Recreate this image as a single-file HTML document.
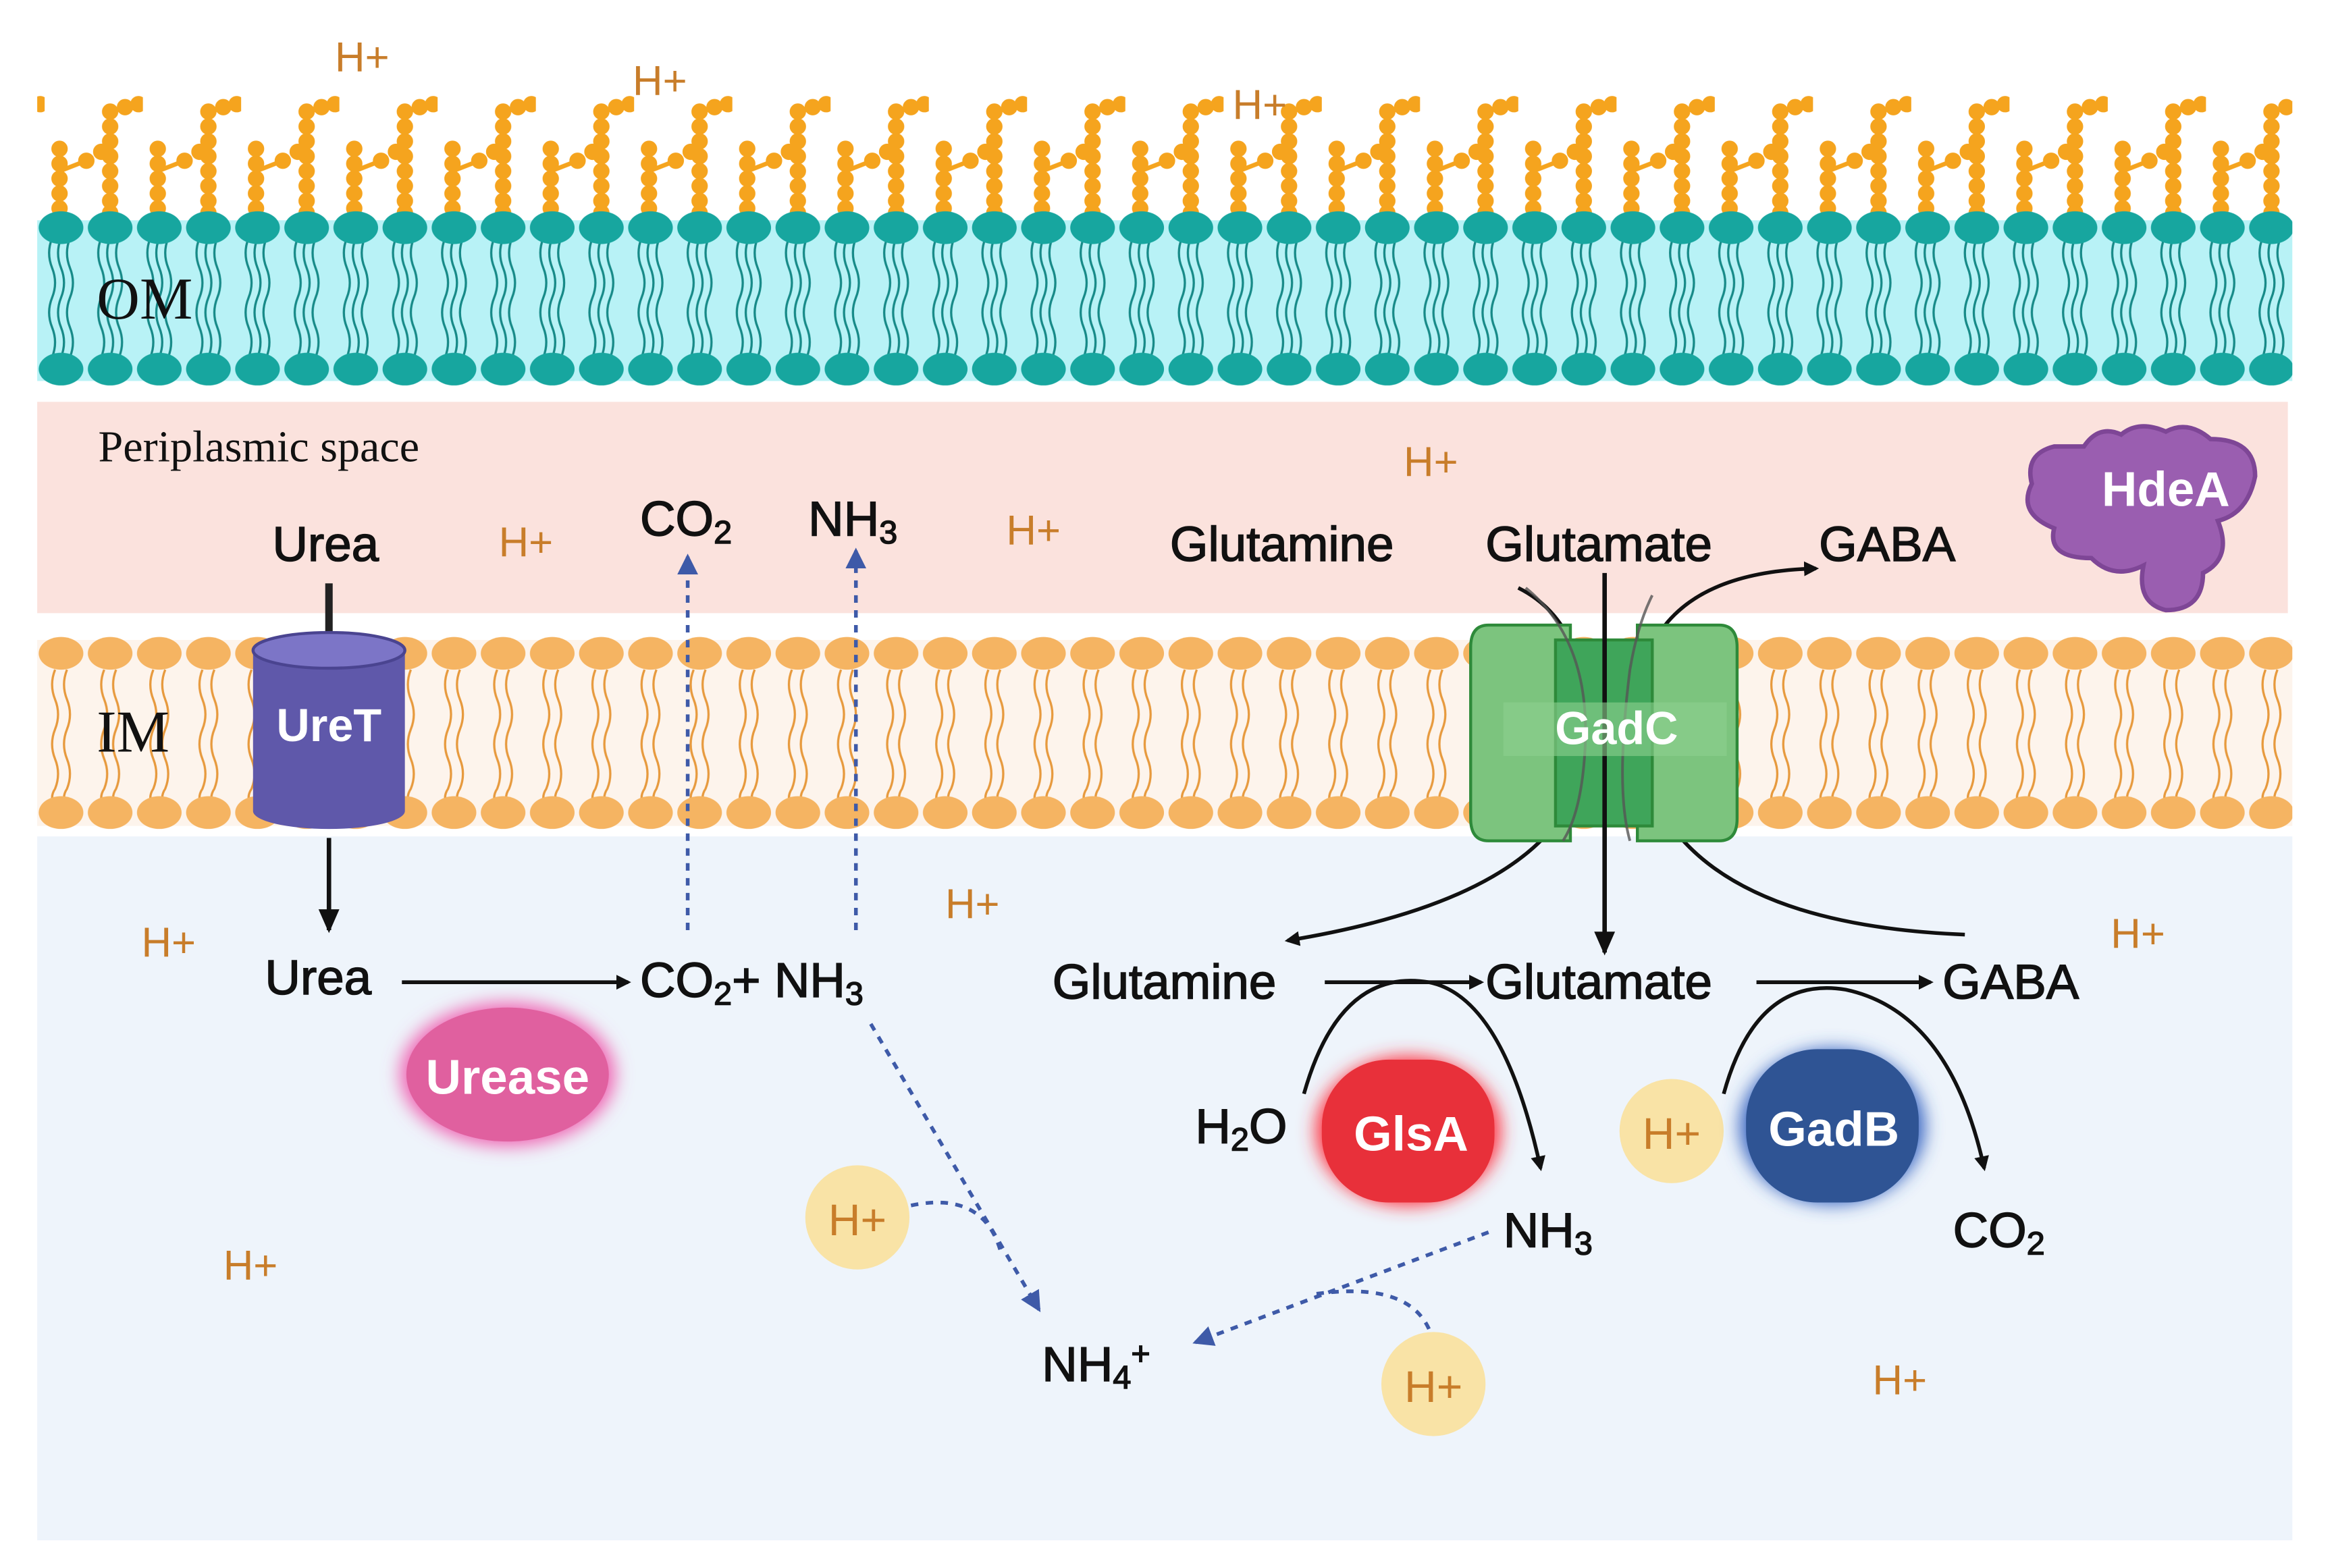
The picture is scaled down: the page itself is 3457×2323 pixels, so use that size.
<!DOCTYPE html>
<html><head><meta charset="utf-8"><style>
html,body{margin:0;padding:0;background:#fff}
svg{display:block}
text{font-family:"Liberation Sans",sans-serif}
.h{fill:#c87d2a;font-size:28px}
.b{fill:#111;font-size:33px;stroke:#111;stroke-width:0.7}
.w{fill:#fff;font-size:33px;font-weight:bold}
</style></head><body>
<svg width="3457" height="2323" viewBox="0 0 1568 1053.6" preserveAspectRatio="none" xmlns="http://www.w3.org/2000/svg">
<defs>
<pattern id="om" x="25" y="140" width="33" height="120" patternUnits="userSpaceOnUse">
<path d="M10 20 q-4 10 0 20 q4 10 0 20 q-4 10 0 20 q4 10 0 20 M16 20 q-4 10 0 20 q4 10 0 20 q-4 10 0 20 q4 10 0 20 M22 20 q-4 10 0 20 q4 10 0 20 q-4 10 0 20 q4 10 0 20" stroke="#178a88" stroke-width="1.5" fill="none"/>
<ellipse cx="16" cy="13" rx="15" ry="11" fill="#17a69f"/>
<ellipse cx="16" cy="108" rx="15" ry="11" fill="#17a69f"/>
</pattern>
<pattern id="im" x="25" y="425" width="33" height="136" patternUnits="userSpaceOnUse">
<path d="M12 25 q-4 10 0 20 q4 10 0 20 q-4 10 0 20 q4 10 0 20 q-4 6 0 12 M20 25 q-4 10 0 20 q4 10 0 20 q-4 10 0 20 q4 10 0 20 q-4 6 0 12" stroke="#e79a3e" stroke-width="1.5" fill="none"/>
<ellipse cx="16" cy="14" rx="15" ry="11" fill="#f5b462"/>
<ellipse cx="16" cy="121" rx="15" ry="11" fill="#f5b462"/>
</pattern>
<pattern id="lps" x="30" y="40" width="66" height="110" patternUnits="userSpaceOnUse">
<g fill="#f5a41e" stroke="#f5a41e">
<line x1="10" y1="55" x2="10" y2="105" stroke-width="3"/>
<circle cx="10" cy="60" r="5"/><circle cx="10" cy="70" r="5"/><circle cx="10" cy="80" r="5"/><circle cx="10" cy="90" r="5"/><circle cx="10" cy="100" r="5"/>
<line x1="10" y1="75" x2="28" y2="68" stroke-width="3"/><circle cx="28" cy="68" r="5"/><circle cx="38" cy="62" r="5"/>
<line x1="44" y1="30" x2="44" y2="105" stroke-width="3"/>
<circle cx="44" cy="35" r="5"/><circle cx="44" cy="45" r="5"/><circle cx="44" cy="55" r="5"/><circle cx="44" cy="65" r="5"/><circle cx="44" cy="75" r="5"/><circle cx="44" cy="85" r="5"/><circle cx="44" cy="95" r="5"/><circle cx="44" cy="103" r="5"/>
<circle cx="54" cy="32" r="5"/><circle cx="63" cy="30" r="5"/>
</g>
</pattern>
<marker id="ar" markerWidth="10" markerHeight="10" refX="8" refY="5" orient="auto" markerUnits="userSpaceOnUse"><path d="M0 0 L10 5 L0 10z" fill="#111"/></marker>
<marker id="arb" markerWidth="16" markerHeight="16" refX="14" refY="8" orient="auto" markerUnits="userSpaceOnUse"><path d="M0 1 L16 8 L0 15z" fill="#111"/></marker>
<marker id="ab" markerWidth="14" markerHeight="14" refX="12" refY="7" orient="auto" markerUnits="userSpaceOnUse"><path d="M0 0 L14 7 L0 14z" fill="#3e5aa8"/></marker>
<filter id="gl" x="-50%" y="-50%" width="200%" height="200%"><feGaussianBlur stdDeviation="6"/></filter>
</defs>
<rect width="1568" height="1054" fill="#fff"/>
<rect x="25" y="40" width="1515" height="110" fill="url(#lps)"/>
<rect x="25" y="148" width="1515" height="108" fill="#b8f2f6"/>
<rect x="25" y="140" width="1515" height="120" fill="url(#om)"/>
<rect x="25" y="270" width="1512" height="142" fill="#fbe2dd"/>
<rect x="25" y="430" width="1515" height="125" fill="#fdf4ec"/>
<rect x="25" y="425" width="1515" height="136" fill="url(#im)"/>
<rect x="25" y="562" width="1515" height="473" fill="#eef4fb"/>

<text x="65" y="214" font-size="40" fill="#111" style="font-family:'Liberation Serif',serif">OM</text>
<text x="65" y="505" font-size="40" fill="#111" style="font-family:'Liberation Serif',serif">IM</text>
<text x="66" y="310" font-size="30" fill="#111" style="font-family:'Liberation Serif',serif">Periplasmic space</text>

<text x="225" y="48" class="h">H+</text><text x="425" y="64" class="h">H+</text><text x="828" y="80" class="h">H+</text>
<text x="943" y="320" class="h">H+</text><text x="335" y="374" class="h">H+</text><text x="676" y="366" class="h">H+</text>
<text x="95" y="643" class="h">H+</text><text x="635" y="617" class="h">H+</text><text x="150" y="860" class="h">H+</text>
<text x="1418" y="637" class="h">H+</text><text x="1258" y="937" class="h">H+</text>

<text x="183" y="377" class="b">Urea</text>
<line x1="221" y1="392" x2="221" y2="428" stroke="#222" stroke-width="5"/>
<path d="M170 437 L170 545 A51 12 0 0 0 272 545 L272 437z" fill="#5f58aa"/>
<ellipse cx="221" cy="437" rx="51" ry="12" fill="#7c75c7" stroke="#4a4490" stroke-width="2"/>
<text x="221" y="498" class="w" text-anchor="middle" style="font-size:31px">UreT</text>
<line x1="221" y1="563" x2="221" y2="625" stroke="#111" stroke-width="3" marker-end="url(#arb)"/>
<text x="178" y="668" class="b">Urea</text>
<line x1="270" y1="660" x2="422" y2="660" stroke="#111" stroke-width="2.5" marker-end="url(#ar)"/>
<text x="430" y="670" class="b">CO<tspan font-size="22" dy="5">2</tspan><tspan dy="-5">+ NH</tspan><tspan font-size="22" dy="5">3</tspan></text>
<ellipse cx="341" cy="722" rx="72" ry="48" fill="#f060b0" filter="url(#gl)"/>
<ellipse cx="341" cy="722" rx="68" ry="45" fill="#e0609f"/>
<text x="341" y="735" class="w" text-anchor="middle">Urease</text>

<line x1="462" y1="625" x2="462" y2="374" stroke="#3e5aa8" stroke-width="2.5" stroke-dasharray="5 5" marker-end="url(#ab)"/>
<line x1="575" y1="625" x2="575" y2="370" stroke="#3e5aa8" stroke-width="2.5" stroke-dasharray="5 5" marker-end="url(#ab)"/>
<text x="430" y="360" class="b">CO<tspan font-size="22" dy="5">2</tspan></text>
<text x="543" y="360" class="b">NH<tspan font-size="22" dy="5">3</tspan></text>

<line x1="585" y1="688" x2="698" y2="880" stroke="#3e5aa8" stroke-width="2.5" stroke-dasharray="5 5" marker-end="url(#ab)"/>
<circle cx="576" cy="818" r="35" fill="#f9e3a6"/>
<text x="576" y="830" text-anchor="middle" class="h" style="font-size:30px">H+</text>
<path d="M612 810 Q660 800 672 840" stroke="#3e5aa8" stroke-width="2.5" stroke-dasharray="5 5" fill="none"/>
<text x="700" y="928" class="b">NH<tspan font-size="22" dy="5">4</tspan><tspan font-size="22" dy="-16">+</tspan></text>
<line x1="1000" y1="828" x2="803" y2="902" stroke="#3e5aa8" stroke-width="2.5" stroke-dasharray="5 5" marker-end="url(#ab)"/>
<circle cx="963" cy="930" r="35" fill="#f9e3a6"/>
<text x="963" y="942" text-anchor="middle" class="h" style="font-size:30px">H+</text>
<path d="M960 893 Q945 860 880 870" stroke="#3e5aa8" stroke-width="2.5" stroke-dasharray="5 5" fill="none"/>

<text x="786" y="377" class="b">Glutamine</text>
<text x="998" y="377" class="b">Glutamate</text>
<text x="1222" y="377" class="b">GABA</text>
<path d="M1400 300 q10 -15 25 -8 q12 -10 30 -2 q15 -8 30 5 q30 0 30 25 q-5 25 -25 30 q10 25 -10 35 q0 25 -25 25 q-20 -5 -15 -30 q-20 10 -35 -5 q-30 0 -25 -20 q-25 -10 -15 -30 q-5 -20 15 -25z" fill="#9a5eb0" stroke="#7e4696" stroke-width="3"/>
<text x="1455" y="340" class="w" text-anchor="middle">HdeA</text>

<path d="M1020 395 Q1070 420 1065 500 Q1060 600 865 632" stroke="#111" stroke-width="2.5" fill="none" marker-end="url(#ar)"/>
<path d="M1320 628 Q1120 620 1100 500 Q1090 385 1220 382" stroke="#111" stroke-width="2.5" fill="none" marker-end="url(#ar)"/>
<path d="M1000 420 h55 v145 h-55 q-12 0 -12 -15 v-115 q0 -15 12 -15z" fill="#7cc47e" stroke="#2e8a3a" stroke-width="2"/>
<path d="M1100 420 h55 q12 0 12 15 v115 q0 15 -12 15 h-55z" fill="#7cc47e" stroke="#2e8a3a" stroke-width="2"/>
<rect x="1045" y="430" width="65" height="125" fill="#3fa55a" stroke="#2e8a3a" stroke-width="2"/>
<path d="M1025 395 Q1068 430 1065 500 Q1063 545 1050 565 M1095 565 Q1085 530 1095 450 Q1100 420 1110 400" stroke="#555" stroke-width="1.8" fill="none" opacity="0.8"/>
<line x1="1078" y1="385" x2="1078" y2="640" stroke="#111" stroke-width="3" marker-end="url(#arb)"/>
<rect x="1010" y="472" width="150" height="36" fill="#8ed08f" opacity="0.6"/>
<text x="1086" y="500" class="w" text-anchor="middle" style="font-size:31px">GadC</text>

<text x="707" y="671" class="b">Glutamine</text>
<text x="998" y="671" class="b">Glutamate</text>
<text x="1305" y="671" class="b">GABA</text>
<line x1="890" y1="660" x2="995" y2="660" stroke="#111" stroke-width="2.5" marker-end="url(#ar)"/>
<line x1="1180" y1="660" x2="1297" y2="660" stroke="#111" stroke-width="2.5" marker-end="url(#ar)"/>
<path d="M876 735 Q900 650 960 660 Q1010 670 1035 785" stroke="#111" stroke-width="2.5" fill="none" marker-end="url(#ar)"/>
<text x="803" y="768" class="b">H<tspan font-size="22" dy="5">2</tspan><tspan dy="-5">O</tspan></text>
<ellipse cx="946" cy="760" rx="62" ry="50" fill="#ff3040" filter="url(#gl)"/>
<rect x="888" y="712" width="116" height="96" rx="45" fill="#e8303a"/>
<text x="948" y="773" class="w" text-anchor="middle">GlsA</text>
<text x="1010" y="838" class="b">NH<tspan font-size="22" dy="5">3</tspan></text>
<circle cx="1123" cy="760" r="35" fill="#f9e3a6"/>
<text x="1123" y="772" text-anchor="middle" class="h" style="font-size:30px">H+</text>
<path d="M1158 735 Q1180 655 1240 665 Q1310 680 1333 785" stroke="#111" stroke-width="2.5" fill="none" marker-end="url(#ar)"/>
<ellipse cx="1231" cy="757" rx="62" ry="52" fill="#3060c0" filter="url(#gl)"/>
<rect x="1173" y="705" width="116" height="103" rx="48" fill="#2f5494"/>
<text x="1232" y="770" class="w" text-anchor="middle">GadB</text>
<text x="1312" y="838" class="b">CO<tspan font-size="22" dy="5">2</tspan></text>
</svg>
</body></html>
